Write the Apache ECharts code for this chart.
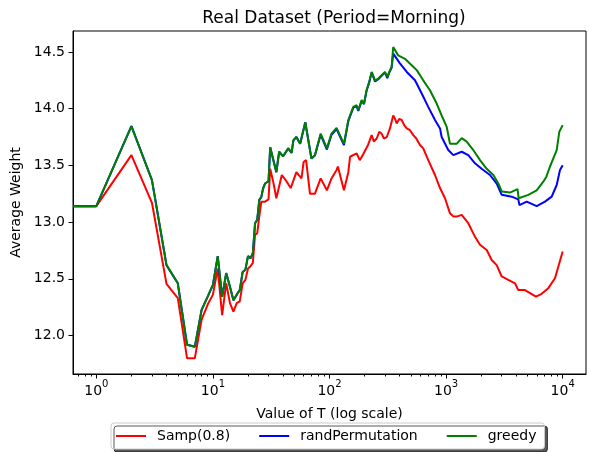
<!DOCTYPE html>
<html>
<head>
<meta charset="utf-8">
<script src="https://cdn.jsdelivr.net/npm/echarts@6/dist/echarts.min.js"></script>
<style>
  html, body { margin: 0; padding: 0; background: #fff; }
  #chart { width: 589px; height: 452px; }
</style>
</head>
<body>
<div id="chart"></div>
<script>
// x range of the log axis (matplotlib added 5% margins: 10^-0.2 .. 10^4.2)
var X_MIN = 0.631;
var X_MAX = 15849;
// T = 0 cannot sit on a log axis, matplotlib clipped it to the left edge
var T_ZERO = X_MIN;

var majorTicksX = [1, 10, 100, 1000, 10000];
var minorTicksX = [0.7, 0.8, 0.9,
  2, 3, 4, 5, 6, 7, 8, 9,
  20, 30, 40, 50, 60, 70, 80, 90,
  200, 300, 400, 500, 600, 700, 800, 900,
  2000, 3000, 4000, 5000, 6000, 7000, 8000, 9000];
var ticksY = [12.0, 12.5, 13.0, 13.5, 14.0, 14.5];

var sampT = [T_ZERO, 1, 2, 3, 4, 5, 6, 7, 8, 9, 10, 11, 12, 13, 14, 15, 16, 17, 18, 19, 20,
  21, 22, 23, 24, 25, 26, 27, 28, 29, 30, 31, 33, 35, 39, 43, 46.5, 52, 57.5, 60, 63,
  68, 75, 84, 95, 104, 115, 118, 133, 145, 150, 171, 182, 195, 214, 230, 240, 254, 267,
  280, 293, 310, 330, 352, 365, 377, 396, 416, 437, 460, 490, 523, 555, 597, 637, 703,
  803, 887, 979, 1080, 1153, 1232, 1361, 1550, 1711,
  1770, 1954, 2230, 2460, 2717, 3000, 3415, 3900, 4160, 4750, 5250, 5900, 6600, 7530,
  8590, 9354, 10000];
var sampV = [13.14, 13.14, 13.59, 13.17, 12.455, 12.33, 11.80, 11.80, 12.14, 12.27, 12.36,
  12.59, 12.18, 12.46, 12.285, 12.21, 12.285, 12.30, 12.46, 12.49, 12.59,
  12.61, 12.64, 12.89, 12.90, 13.05, 13.18, 13.18, 13.18, 13.19, 13.20, 13.47, 13.35,
  13.21, 13.415, 13.356, 13.30, 13.44, 13.385, 13.53, 13.546,
  13.25, 13.25, 13.385, 13.28, 13.385, 13.46, 13.49, 13.28, 13.44, 13.576, 13.605,
  13.546, 13.60, 13.68, 13.767, 13.71, 13.737, 13.796,
  13.78, 13.737, 13.75, 13.826, 13.94, 13.91, 13.87, 13.91, 13.90, 13.855, 13.826,
  13.81, 13.767, 13.737, 13.68, 13.65, 13.546,
  13.415, 13.30, 13.21, 13.077, 13.05, 13.048, 13.063, 12.99, 12.90,
  12.87, 12.80, 12.754, 12.666, 12.62, 12.52, 12.49, 12.46, 12.40, 12.40, 12.373,
  12.343, 12.367, 12.417, 12.505, 12.637, 12.74];

var randT = [T_ZERO, 1, 2, 3, 4, 5, 6, 7, 8, 9, 10, 11, 12, 13, 14, 15, 16, 17, 18, 19, 20,
  21, 22, 23, 24, 25, 26, 27, 28, 29, 30, 31, 35, 37, 40, 44.3, 47.3, 49, 52, 56, 62,
  70, 75, 84, 95, 104, 115, 133, 145, 160, 171, 176.6, 188.8, 197.7, 208, 219, 230,
  245.5, 262, 299, 313, 326, 341, 352,
  402, 460, 541, 618, 703, 803, 887, 916, 1044, 1153, 1361, 1550, 1770, 2018, 2380,
  2717, 3000, 3653, 4160, 4260, 4910, 5984, 7047, 8050, 8886, 9486, 10000];
var randV = [13.14, 13.14, 13.846, 13.37, 12.62, 12.46, 11.918, 11.90, 12.226, 12.34, 12.446,
  12.70, 12.34, 12.55, 12.43, 12.31, 12.36, 12.40, 12.56, 12.58, 12.70,
  12.68, 12.725, 12.99, 13.02, 13.195, 13.22, 13.30, 13.34, 13.34, 13.36, 13.66, 13.44,
  13.62, 13.58, 13.65, 13.61, 13.72, 13.75, 13.69, 13.88,
  13.56, 13.59, 13.77, 13.64, 13.77, 13.82, 13.68, 13.89, 14.01, 14.02, 13.98, 14.07,
  14.04, 14.16, 14.23, 14.32,
  14.24, 14.26, 14.32, 14.27, 14.32, 14.36, 14.486,
  14.40, 14.324, 14.25, 14.134, 14.016, 13.90, 13.826, 13.75, 13.635, 13.59, 13.62,
  13.59, 13.518, 13.47, 13.415,
  13.34, 13.24, 13.224, 13.20, 13.15, 13.18, 13.14, 13.18, 13.224, 13.327, 13.46, 13.50];

var greedyT = [T_ZERO, 1, 2, 3, 4, 5, 6, 7, 8, 9, 10, 11, 12, 13, 14, 15, 16, 17, 18, 19, 20,
  21, 22, 23, 24, 25, 26, 27, 28, 29, 30, 31, 35, 37, 40, 44.3, 47.3, 49, 52, 56, 62,
  70, 75, 84, 95, 104, 115, 133, 145, 160, 171, 176.6, 188.8, 197.7, 208, 219, 230,
  245.5, 262, 299, 313, 326, 341, 352,
  388, 444, 507, 560, 637, 727, 830, 916, 1012, 1080, 1232, 1361, 1502, 1711, 1954,
  2230, 2543, 2806, 3000, 3534, 4100, 4190, 5074, 5984, 6820, 7250, 7784, 8886, 9354,
  10000];
var greedyV = [13.14, 13.14, 13.846, 13.37, 12.62, 12.46, 11.918, 11.90, 12.226, 12.34, 12.446,
  12.70, 12.34, 12.55, 12.43, 12.31, 12.36, 12.40, 12.56, 12.58, 12.70,
  12.68, 12.725, 12.99, 13.02, 13.195, 13.22, 13.30, 13.34, 13.34, 13.36, 13.66, 13.44,
  13.62, 13.58, 13.65, 13.61, 13.72, 13.75, 13.69, 13.88,
  13.56, 13.59, 13.78, 13.65, 13.78, 13.83, 13.69, 13.90, 14.016, 14.03, 13.986, 14.075,
  14.045, 14.163, 14.236, 14.324,
  14.25, 14.266, 14.324, 14.28, 14.324, 14.37, 14.544,
  14.47, 14.44, 14.383, 14.34, 14.25, 14.163, 14.045, 13.94, 13.84, 13.69, 13.69, 13.74,
  13.71, 13.635, 13.546,
  13.47, 13.415, 13.34, 13.27, 13.26, 13.29, 13.21, 13.24, 13.28, 13.356, 13.40, 13.49,
  13.635, 13.796, 13.855];

function pairs(ts, vs) {
  return ts.map(function (t, i) { return [t, vs[i]]; });
}

var FONT = 'DejaVu Sans';
var chart = echarts.init(document.getElementById('chart'));

var lineSeries = function (name, color, ts, vs) {
  return {
    name: name,
    type: 'line',
    xAxisIndex: 0,
    symbol: 'none',
    showSymbol: false,
    lineStyle: { color: color, width: 2 },
    itemStyle: { color: color },
    data: pairs(ts, vs)
  };
};

var option = {
  animation: false,
  backgroundColor: '#fff',
  textStyle: { fontFamily: FONT, color: '#000' },
  title: {
    text: 'Real Dataset (Period=Morning)',
    left: 329,
    textAlign: 'center',
    top: 5,
    textStyle: { fontFamily: FONT, fontSize: 17, fontWeight: 'normal', color: '#000' }
  },
  grid: {
    left: 73, right: 3, top: 31, bottom: 78,
    show: true, borderColor: '#000', borderWidth: 1
  },
  legend: {
    left: 111, top: 423,
    padding: [5, 8, 5, 5],
    itemGap: 29,
    itemWidth: 30,
    itemHeight: 2,
    icon: 'rect',
    backgroundColor: '#fff',
    borderColor: '#ccc',
    borderWidth: 1,
    borderRadius: 3,
    shadowColor: 'rgba(0,0,0,0.65)',
    shadowBlur: 0,
    shadowOffsetX: 3,
    shadowOffsetY: 3,
    textStyle: { fontFamily: FONT, fontSize: 14, color: '#000', padding: [0, 0, 0, 6], lineHeight: 16 },
    data: ['Samp(0.8)', 'randPermutation', 'greedy']
  },
  xAxis: [
    {
      type: 'log',
      logBase: 10,
      min: X_MIN,
      max: X_MAX,
      name: 'Value of T (log scale)',
      nameLocation: 'middle',
      nameGap: 33,
      nameTextStyle: { fontFamily: FONT, fontSize: 14, color: '#000' },
      axisLine: { lineStyle: { color: '#000', width: 1 } },
      axisTick: { customValues: majorTicksX, length: 4.5, lineStyle: { color: '#000' } },
      axisLabel: {
        customValues: majorTicksX,
        margin: 5,
        formatter: function (v) {
          return '{b|10}{s|' + Math.round(Math.log10(v)) + '}';
        },
        rich: {
          b: { fontFamily: FONT, fontSize: 14, color: '#000', lineHeight: 19, verticalAlign: 'bottom' },
          s: { fontFamily: FONT, fontSize: 10, color: '#000', lineHeight: 19, verticalAlign: 'top' }
        }
      },
      splitLine: { show: false }
    },
    {
      type: 'log',
      logBase: 10,
      min: X_MIN,
      max: X_MAX,
      position: 'bottom',
      axisLine: { show: false },
      axisTick: { customValues: minorTicksX, length: 2.5, lineStyle: { color: '#000' } },
      axisLabel: { show: false },
      splitLine: { show: false }
    }
  ],
  yAxis: {
    type: 'value',
    min: 11.66,
    max: 14.685,
    name: 'Average Weight',
    nameLocation: 'middle',
    nameGap: 48,
    nameTextStyle: { fontFamily: FONT, fontSize: 14, color: '#000' },
    axisLine: { show: true, lineStyle: { color: '#000', width: 1 } },
    axisTick: { show: true, customValues: ticksY, length: 4.5, lineStyle: { color: '#000' } },
    axisLabel: {
      customValues: ticksY,
      margin: 8,
      fontFamily: FONT, fontSize: 14, color: '#000',
      formatter: function (v) { return v.toFixed(1); }
    },
    splitLine: { show: false }
  },
  series: [
    lineSeries('Samp(0.8)', '#ff0000', sampT, sampV),
    lineSeries('randPermutation', '#0000ff', randT, randV),
    lineSeries('greedy', '#008000', greedyT, greedyV)
  ]
};

chart.setOption(option);
</script>
</body>
</html>
